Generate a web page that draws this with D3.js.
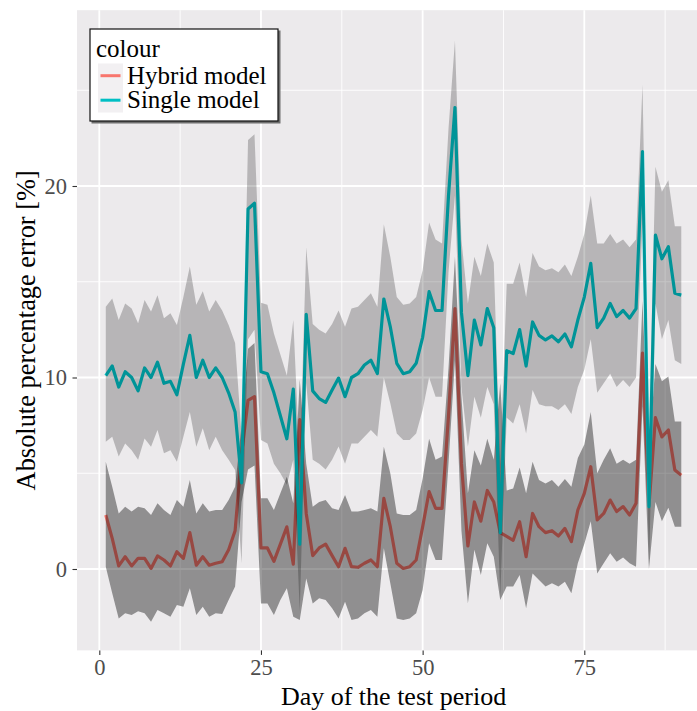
<!DOCTYPE html>
<html>
<head>
<meta charset="utf-8">
<script src="https://cdn.jsdelivr.net/npm/d3@7/dist/d3.min.js"></script>
<style>
  html, body { margin: 0; padding: 0; background: #ffffff; }
  svg { display: block; }
  text { font-family: "Liberation Serif", "Times New Roman", serif; }
</style>
</head>
<body>
<svg id="chart" width="697" height="711"></svg>
<script>
// Day index of the test period
const days = d3.range(1, 91);

// Absolute percentage error of the hybrid model, per day
const hybrid = [
  2.82, 1.6, 0.16, 0.64, 0.16, 0.56, 0.56, 0.03, 0.68, 0.47,
  0.16, 0.9, 0.56, 1.9, 0.2, 0.64, 0.2, 0.3, 0.38, 1.0,
  2.0, 6.0, 8.8, 9.0, 1.1, 1.1, 0.4, 1.3, 2.2, 0.25,
  7.8, 2.9, 0.7, 1.1, 1.3, 0.7, 0.12, 1.08, 0.12, 0.09,
  0.3, 0.47, 0.12, 3.69, 2.21, 0.3, 0.03, 0.12, 0.47, 2.2,
  4.04, 3.17, 3.17, 8.0, 13.6, 5.5, 1.2, 3.5, 2.5, 4.1,
  3.5, 1.9, 1.7, 1.5, 2.47, 0.64, 2.9, 2.21, 1.9, 2.0,
  1.72, 2.12, 1.43, 3.08, 3.95, 5.34, 2.56, 2.9, 3.6, 3.0,
  3.26, 2.82, 3.43, 11.27, 3.3, 7.9, 6.9, 7.26, 5.17, 4.9
];
const hybridLower = [
  0.12, -1.27, -2.58, -2.31, -2.4, -2.2, -2.31, -2.75, -2.14, -2.31,
  -2.49, -1.88, -1.97, -1.0, -2.4, -1.97, -2.49, -2.31, -2.35, -1.62,
  -0.92, 3.5, 5.2, 5.4, -1.8, -1.8, -2.4, -1.62, -1.0, -2.49,
  -2.66, -0.5, -1.8, -1.53, -1.62, -2.05, -2.58, -1.71, -2.66, -2.58,
  -2.31, -2.14, -2.49, 1.08, -0.75, -2.58, -2.66, -2.58, -2.31, -1.1,
  1.34, 0.47, 0.47, 5.5, 10.9, 2.0, -1.8, 1.0, -0.31, 1.34,
  0.64, -1.62, -0.92, -0.92, -0.31, -2.05, -0.23, -0.57, -0.92, -0.75,
  -0.92, -0.66, -1.27, 0.3, 1.3, 2.5, -0.23, 0.3, 0.82, 0.38,
  0.6, 0.3, 0.12, 8.5, 0.0, 3.5, 2.5, 3.2, 2.21, 2.21
];
const hybridUpper = [
  5.6, 4.3, 2.9, 3.25, 3.0, 3.25, 3.17, 2.82, 3.43, 3.08,
  2.82, 3.6, 3.25, 4.65, 2.9, 3.43, 3.0, 3.08, 3.08, 3.6,
  4.3, 7.5, 11.5, 11.8, 3.69, 3.69, 3.08, 3.95, 4.82, 3.43,
  9.9, 5.5, 3.25, 3.5, 3.6, 3.17, 3.08, 3.87, 3.0, 3.0,
  3.08, 3.17, 3.0, 6.39, 5.0, 2.9, 2.82, 2.82, 3.08, 4.73,
  6.8, 5.7, 5.87, 10.5, 16.3, 9.0, 3.95, 6.2, 5.4, 6.8,
  5.7, 9.7, 4.1, 4.2, 5.3, 3.95, 5.6, 4.65, 4.47, 4.65,
  4.3, 4.7, 4.3, 5.8, 6.5, 8.2, 5.0, 5.7, 6.3, 5.5,
  5.7, 5.5, 5.7, 14.0, 6.0, 10.7, 9.8, 10.05, 7.7, 7.7
];

// Absolute percentage error of the single model, per day
const single = [
  10.1, 10.6, 9.5, 10.3, 10.0, 9.3, 10.5, 10.0, 10.8, 9.7,
  9.8, 9.1, 10.7, 12.2, 10.0, 10.9, 10.0, 10.5, 10.0, 9.2,
  8.2, 4.5, 18.8, 19.1, 10.3, 10.2, 9.2, 8.0, 6.8, 9.4,
  1.3, 13.3, 9.3, 8.9, 8.7, 9.35, 9.97, 9.0, 10.0, 10.2,
  10.65, 10.9, 10.2, 14.1, 12.65, 10.74, 10.2, 10.3, 10.74, 12.1,
  14.48, 13.5, 13.5, 19.5, 24.1, 13.4, 10.1, 13.0, 11.7, 13.6,
  12.6, 1.9, 11.4, 11.25, 12.5, 10.6, 12.9, 12.2, 11.96, 12.17,
  11.87, 12.27, 11.6, 13.0, 14.2, 15.96, 12.6, 13.1, 13.87, 13.18,
  13.5, 13.1, 13.6, 21.8, 3.25, 17.44, 16.2, 16.83, 14.4, 14.3
];
const singleLower = [
  6.65, 6.9, 5.87, 6.56, 6.2, 5.7, 6.82, 6.39, 7.26, 6.04,
  6.2, 5.6, 6.9, 8.2, 6.39, 7.35, 6.2, 6.9, 6.2, 5.7,
  5.17, 0.3, 12.0, 12.5, 6.74, 6.56, 5.5, 5.0, 4.4, 5.7,
  -2.2, 9.7, 5.7, 5.5, 5.2, 5.7, 6.4, 5.5, 6.56, 6.56,
  6.9, 7.26, 6.9, 10.0, 8.65, 7.08, 6.74, 6.74, 7.08, 8.3,
  10.0, 9.0, 9.0, 15.5, 19.5, 9.5, 6.39, 9.0, 7.9, 9.5,
  8.6, -1.5, 7.9, 7.6, 8.6, 7.08, 9.35, 8.6, 8.5, 8.5,
  8.3, 8.6, 8.1, 9.5, 10.4, 12.0, 9.2, 9.7, 10.2, 9.5,
  9.87, 9.5, 10.0, 18.0, 0.0, 13.87, 12.0, 13.0, 10.9, 10.7
];
const singleUpper = [
  13.7, 14.13, 13.0, 13.87, 13.6, 12.83, 14.05, 13.44, 14.3, 13.1,
  13.35, 12.74, 14.2, 15.8, 13.8, 14.5, 13.44, 14.05, 13.5, 12.74,
  11.8, 7.0, 22.4, 22.7, 13.9, 13.8, 12.3, 11.2, 10.1, 13.0,
  5.5, 16.8, 12.8, 12.5, 12.3, 12.8, 13.5, 12.65, 13.6, 13.7,
  14.05, 14.4, 13.7, 18.0, 16.3, 14.2, 13.8, 13.87, 14.2, 15.6,
  18.1, 17.2, 17.0, 23.0, 27.6, 17.2, 13.87, 16.3, 15.3, 17.0,
  16.0, 5.5, 14.9, 14.9, 16.0, 14.2, 16.5, 15.8, 15.6, 15.7,
  15.5, 15.9, 15.3, 16.3, 17.5, 19.5, 17.0, 17.0, 17.5, 17.0,
  17.2, 16.8, 17.2, 25.3, 7.0, 21.0, 19.7, 20.3, 17.9, 17.9
];

// Axis breaks and labels
const xTicks = [0, 25, 50, 75];
const xMinor = [12.5, 37.5, 62.5, 87.5];
const yTicks = [0, 10, 20];
const yMinor = [5, 15, 25];
const seriesNames = ["Hybrid model", "Single model"];
const seriesColors = ["#F8766D", "#00BFC4"];

const svg = d3.select("#chart");

const x = d3.scaleLinear().domain([0, 75]).range([99.3, 584.3]);
const y = d3.scaleLinear().domain([0, 20]).range([569, 186]);

const panel = {
  x0: x(-3.45), x1: x(94.45),
  y0: y(29.18), y1: y(-4.25)
};

svg.append("defs").append("clipPath").attr("id", "panelClip")
  .append("rect")
  .attr("x", panel.x0).attr("y", panel.y0)
  .attr("width", panel.x1 - panel.x0).attr("height", panel.y1 - panel.y0);

// panel background
svg.append("rect")
  .attr("x", panel.x0).attr("y", panel.y0)
  .attr("width", panel.x1 - panel.x0).attr("height", panel.y1 - panel.y0)
  .attr("fill", "#ECEAEC");

const grid = svg.append("g");
grid.selectAll(".ymin").data(yMinor).join("line")
  .attr("x1", panel.x0).attr("x2", panel.x1)
  .attr("y1", d => y(d)).attr("y2", d => y(d))
  .attr("stroke", "#ffffff").attr("stroke-width", 0.9);
grid.selectAll(".xmin").data(xMinor).join("line")
  .attr("y1", panel.y0).attr("y2", panel.y1)
  .attr("x1", d => x(d)).attr("x2", d => x(d))
  .attr("stroke", "#ffffff").attr("stroke-width", 0.9);
grid.selectAll(".ymaj").data(yTicks).join("line")
  .attr("x1", panel.x0).attr("x2", panel.x1)
  .attr("y1", d => y(d)).attr("y2", d => y(d))
  .attr("stroke", "#ffffff").attr("stroke-width", 1.8);
grid.selectAll(".xmaj").data(xTicks).join("line")
  .attr("y1", panel.y0).attr("y2", panel.y1)
  .attr("x1", d => x(d)).attr("x2", d => x(d))
  .attr("stroke", "#ffffff").attr("stroke-width", 1.8);

const plot = svg.append("g").attr("clip-path", "url(#panelClip)");

function band(lower, upper) {
  return d3.area()
    .x((d, i) => x(days[i]))
    .y0((d, i) => y(lower[i]))
    .y1((d, i) => y(upper[i]))(days);
}
function path(values) {
  return d3.line()
    .x((d, i) => x(days[i]))
    .y((d, i) => y(values[i]))(days);
}

// hybrid model line with its band
plot.append("path").attr("d", path(hybrid))
  .attr("fill", "none").attr("stroke", seriesColors[0])
  .attr("stroke-width", 3.2).attr("stroke-linejoin", "round");
plot.append("path").attr("d", band(hybridLower, hybridUpper))
  .attr("fill", "#000000").attr("fill-opacity", 0.39);

// single model line with its band
plot.append("path").attr("d", path(single))
  .attr("fill", "none").attr("stroke", seriesColors[1])
  .attr("stroke-width", 3.2).attr("stroke-linejoin", "round");
plot.append("path").attr("d", band(singleLower, singleUpper))
  .attr("fill", "#000000").attr("fill-opacity", 0.225);

// axes
const xAxis = svg.append("g")
  .attr("transform", `translate(0,${panel.y1})`)
  .call(d3.axisBottom(x).tickValues(xTicks).tickSize(4.5).tickPadding(4));
const yAxis = svg.append("g")
  .attr("transform", `translate(${panel.x0},0)`)
  .call(d3.axisLeft(y).tickValues(yTicks).tickSize(4.5).tickPadding(5.5));
[xAxis, yAxis].forEach(g => {
  g.select(".domain").remove();
  g.selectAll(".tick line").attr("stroke", "#333333").attr("stroke-width", 1.1);
  g.selectAll(".tick text")
    .attr("fill", "#4D4D4D")
    .style("font-family", "'Liberation Serif', 'Times New Roman', serif")
    .style("font-size", "22.5px");
});
xAxis.selectAll(".tick text").attr("dy", "0.738em");

svg.append("text")
  .attr("x", (panel.x0 + panel.x1) / 2).attr("y", 704.5)
  .attr("text-anchor", "middle")
  .attr("fill", "#000000").style("font-size", "26px")
  .text("Day of the test period");

svg.append("text")
  .attr("transform", `translate(35,${(panel.y0 + panel.y1) / 2}) rotate(-90)`)
  .attr("text-anchor", "middle")
  .attr("fill", "#000000").style("font-size", "26.4px")
  .text("Absolute percentage error [%]");

// legend
const legend = svg.append("g");
legend.append("rect")
  .attr("x", 91.5).attr("y", 30.5).attr("width", 189).attr("height", 93)
  .attr("fill", "#6f6f6f");
legend.append("rect")
  .attr("x", 90).attr("y", 29).attr("width", 188).attr("height", 92)
  .attr("fill", "#ffffff").attr("stroke", "#111111").attr("stroke-width", 1.2);
legend.append("text")
  .attr("x", 96).attr("y", 56.5)
  .attr("fill", "#000000").style("font-size", "25px")
  .text("colour");
const items = legend.selectAll(".item").data(seriesNames).join("g")
  .attr("transform", (d, i) => `translate(0,${i * 24.5})`);
items.append("rect")
  .attr("x", 98).attr("y", 63.5).attr("width", 25).attr("height", 24.5)
  .attr("fill", "#F2F0F2");
items.append("line")
  .attr("x1", 100.5).attr("x2", 120.5)
  .attr("y1", 75.7).attr("y2", 75.7)
  .attr("stroke", (d, i) => seriesColors[i]).attr("stroke-width", 3);
items.append("text")
  .attr("x", 127).attr("y", 83.5)
  .attr("fill", "#000000").style("font-size", "25px")
  .text(d => d);
</script>
</body>
</html>
